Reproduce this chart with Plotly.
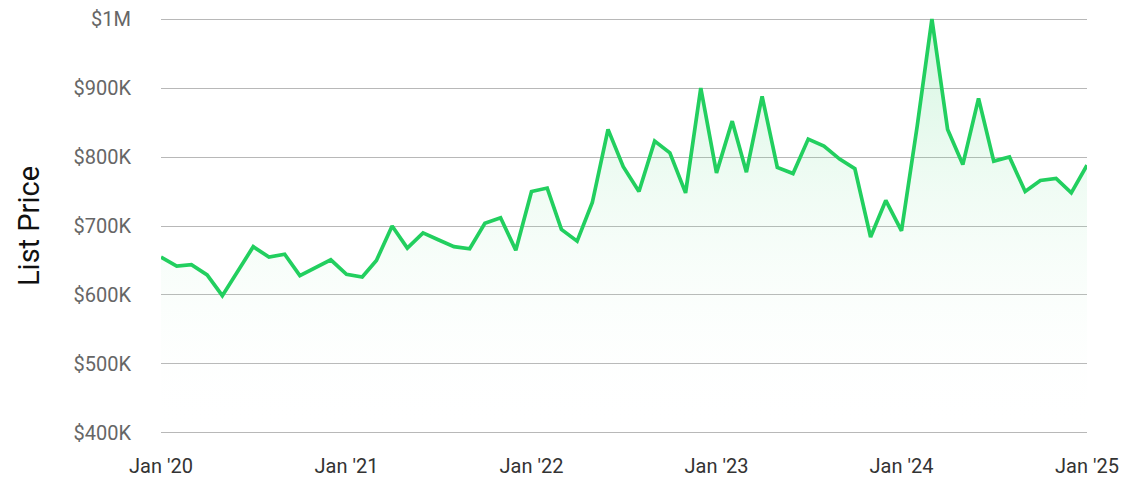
import plotly.graph_objects as go
import pandas as pd

dates = pd.date_range("2020-01-01", "2025-01-01", freq="MS").strftime("%Y-%m-%d").tolist()
prices = [
    655000, 642000, 644000, 629000, 599000, 636000, 670000, 655000, 659000, 628000,
    640000, 651000, 630000, 626000, 650000, 700000, 668000, 690000, 680000, 670000,
    667000, 704000, 712000, 665000, 750000, 755000, 695000, 678000, 734000, 840000,
    786000, 750000, 823000, 806000, 748000, 900000, 777000, 852000, 778000, 888000,
    785000, 776000, 826000, 816000, 797000, 783000, 684000, 737000, 693000, 845000,
    1000000, 840000, 789000, 885000, 794000, 800000, 750000, 766000, 769000, 748000,
    788000,
]
y_ticks = [400000, 500000, 600000, 700000, 800000, 900000, 1000000]
y_labels = ["$400K", "$500K", "$600K", "$700K", "$800K", "$900K", "$1M"]
x_ticks = ["2020-01-01", "2021-01-01", "2022-01-01", "2023-01-01", "2024-01-01", "2025-01-01"]
x_labels = ["Jan '20", "Jan '21", "Jan '22", "Jan '23", "Jan '24", "Jan '25"]

fig = go.Figure()
fig.add_trace(go.Scatter(
    x=dates, y=prices, mode="lines",
    line=dict(color="#22cf5f", width=3.7),
    fill="tozeroy",
    fillgradient=dict(
        type="vertical",
        start=400000, stop=1000000,
        colorscale=[[0, "rgba(255,255,255,0)"], [1, "rgba(34,207,95,0.2)"]],
    ),
    hoverinfo="skip",
))

# The page body has an 8px default margin, so the figure is 8px smaller.
fig.update_layout(
    width=1127, height=469,
    margin=dict(l=153, r=48, t=10, b=43),
    paper_bgcolor="white", plot_bgcolor="white",
    showlegend=False,
    font=dict(family="Roboto", color="#555555", size=20),
)
fig.update_xaxes(
    range=["2020-01-01", "2025-01-01"],
    tickvals=x_ticks, ticktext=x_labels,
    showgrid=False, zeroline=False, showline=False,
    ticks="outside", ticklen=14, tickcolor="rgba(0,0,0,0)",
    tickfont=dict(size=20, color="#333333"),
    ticklabeloverflow="allow",
    automargin=False,
)
fig.update_yaxes(
    range=[398500, 1001500],
    tickvals=y_ticks, ticktext=y_labels,
    showgrid=True, gridcolor="#b8b8b8", gridwidth=1,
    zeroline=False, showline=False,
    ticks="outside", ticklen=25, tickcolor="rgba(0,0,0,0)",
    tickfont=dict(size=20, color="#666666"),
    ticklabeloverflow="allow",
    title=dict(text="List Price", font=dict(size=29, color="#111111"), standoff=25),
    automargin=False,
)
fig.write_html("out.html")
